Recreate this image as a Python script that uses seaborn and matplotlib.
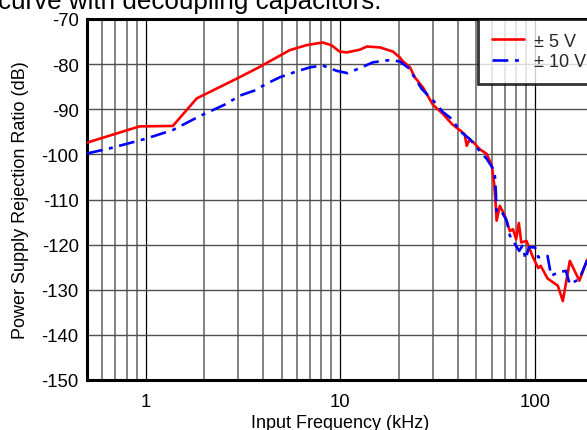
import matplotlib
matplotlib.use("Agg")
import matplotlib.pyplot as plt
import matplotlib.ticker as mticker
import seaborn as sns
import pandas as pd
import numpy as np

# ---- data ----
freq_5v = [0.5, 0.93, 1.38, 1.83, 3.04, 3.86, 5.5, 6.7, 8.1, 9.0, 9.9, 10.8, 12.6, 13.7, 16,
           18.6, 20.2, 20.9, 22.8, 24.1, 26.5, 29.9, 33.6, 37.5, 41, 43.5, 44.6, 46, 48, 51.9,
           56.5, 60, 61.7, 63, 63.5, 66, 70, 74.3, 77.1, 80, 82.6, 85, 90.5, 97.6, 104, 107,
           116, 131, 139, 151, 169, 185, 200]
psrr_5v = [-97.4, -93.8, -93.7, -87.6, -82.9, -80.6, -76.9, -75.8, -75.2, -75.8, -77.2, -77.4,
           -76.8, -76.1, -76.3, -77.2, -78.5, -79.3, -80.7, -82.9, -85.1, -89.0, -91.0, -93.3,
           -94.6, -95.5, -98.1, -96.8, -97.2, -98.8, -99.9, -102.5, -106.5, -112.0, -114.7,
           -111.4, -113.6, -117.0, -116.6, -118.8, -115.2, -119.5, -119.2, -122.8, -125.2,
           -124.7, -127.5, -129.1, -132.5, -123.6, -128.0, -123.5, -121.0]

freq_10v = [0.5, 0.65, 0.99, 1.38, 1.9, 2.6, 3.04, 3.6, 4.2, 4.9, 5.8, 7.0, 8.1, 9.6, 10.9,
            12.9, 14.7, 18, 20.2, 22.8, 23.5, 26.2, 29.9, 33.6, 37.5, 41, 46.3, 50, 56.5, 62,
            62.9, 63.5, 67.6, 71.6, 74.3, 80, 83, 86, 89.6, 93, 100, 104, 116, 121, 131, 144,
            151, 169, 185, 200]
psrr_10v = [-99.8, -98.7, -96.6, -94.6, -91.5, -88.8, -87.0, -85.9, -84.3, -82.9, -81.8, -80.7,
            -80.3, -81.5, -82.0, -80.7, -79.6, -79.1, -79.4, -81.1, -82.2, -85.5, -88.0, -90.6,
            -92.2, -94.8, -96.6, -98.4, -101.0, -103.7, -108.0, -112.9, -112.8, -114.7, -118.0,
            -120.3, -121.4, -120.3, -123.2, -120.6, -120.6, -122.8, -122.5, -126.9, -126.2,
            -125.8, -128.8, -127.6, -123.5, -121.0]

series_names = ["± 5 V", "± 10 V"]
y_ticks = [-70, -80, -90, -100, -110, -120, -130, -140, -150]
x_tick_vals = [1, 10, 100]
x_tick_labels = ["1", "10", "100"]
title_text = "curve with decoupling capacitors."
x_label = "Input Frequency (kHz)"
y_label = "Power Supply Rejection Ratio (dB)"

df = pd.concat([
    pd.DataFrame({"freq": freq_5v, "psrr": psrr_5v, "supply": series_names[0]}),
    pd.DataFrame({"freq": freq_10v, "psrr": psrr_10v, "supply": series_names[1]}),
], ignore_index=True)

sns.set_theme(style="white")
plt.rcParams["font.family"] = ["Liberation Sans", "DejaVu Sans"]

W, H = 587, 431
fig = plt.figure(figsize=(W / 100, H / 100), dpi=100)
# axes: left spine at x=87, top at y=20, bottom at y=381, right (200 kHz) beyond the edge
x_left, x_right = 87, 593.6
y_top, y_bot = 20, 381
ax = fig.add_axes([x_left / W, 1 - y_bot / H, (x_right - x_left) / W, (y_bot - y_top) / H])

sns.lineplot(data=df, x="freq", y="psrr", hue="supply", style="supply",
             palette={series_names[0]: "#ff0000", series_names[1]: "#0000ff"},
             dashes={series_names[0]: "", series_names[1]: (6, 2.5, 1.5, 2.5)},
             estimator=None, sort=False, linewidth=1.9, ax=ax, zorder=3)

ax.set_xscale("log")
ax.set_xlim(0.5, 200)
ax.set_ylim(-150, -70)
ax.set_yticks(y_ticks)
ax.yaxis.set_major_formatter(mticker.FuncFormatter(lambda v, p: f"{int(v)}"))
ax.set_xticks(x_tick_vals)
ax.set_xticklabels(x_tick_labels)
ax.xaxis.set_minor_locator(mticker.LogLocator(base=10, subs=np.arange(2, 10)))
ax.xaxis.set_minor_formatter(mticker.NullFormatter())

ax.grid(True, which="major", axis="x", color="black", linewidth=0.9)
ax.grid(True, which="minor", axis="x", color="#7a7a7a", linewidth=1.3)
ax.grid(True, which="major", axis="y", color="#505050", linewidth=1.0)
ax.set_axisbelow(True)

ax.tick_params(axis="both", which="both", length=0, labelsize=13.3, colors="black")
ax.tick_params(axis="x", pad=9.5)
ax.tick_params(axis="y", pad=6)

for side in ["left", "top", "bottom", "right"]:
    ax.spines[side].set_color("black")
    ax.spines[side].set_linewidth(2.2)

ax.set_xlabel(x_label, fontsize=13, labelpad=3, color="black")
ax.set_ylabel(y_label, fontsize=13, labelpad=9, color="black")

leg = ax.legend(loc="upper right", bbox_to_anchor=(1.011, 1.0), borderaxespad=0,
                frameon=True, fancybox=False, edgecolor="black", fontsize=13,
                handlelength=1.8, handletextpad=0.5, borderpad=0.75, labelspacing=0.2)
leg.get_frame().set_linewidth(2.0)
leg.set_title(None)

fig.text(-0.004, 1 - 9 / H, title_text, fontsize=18.7, ha="left", va="baseline", color="black")

fig.savefig("out.png", dpi=100)
